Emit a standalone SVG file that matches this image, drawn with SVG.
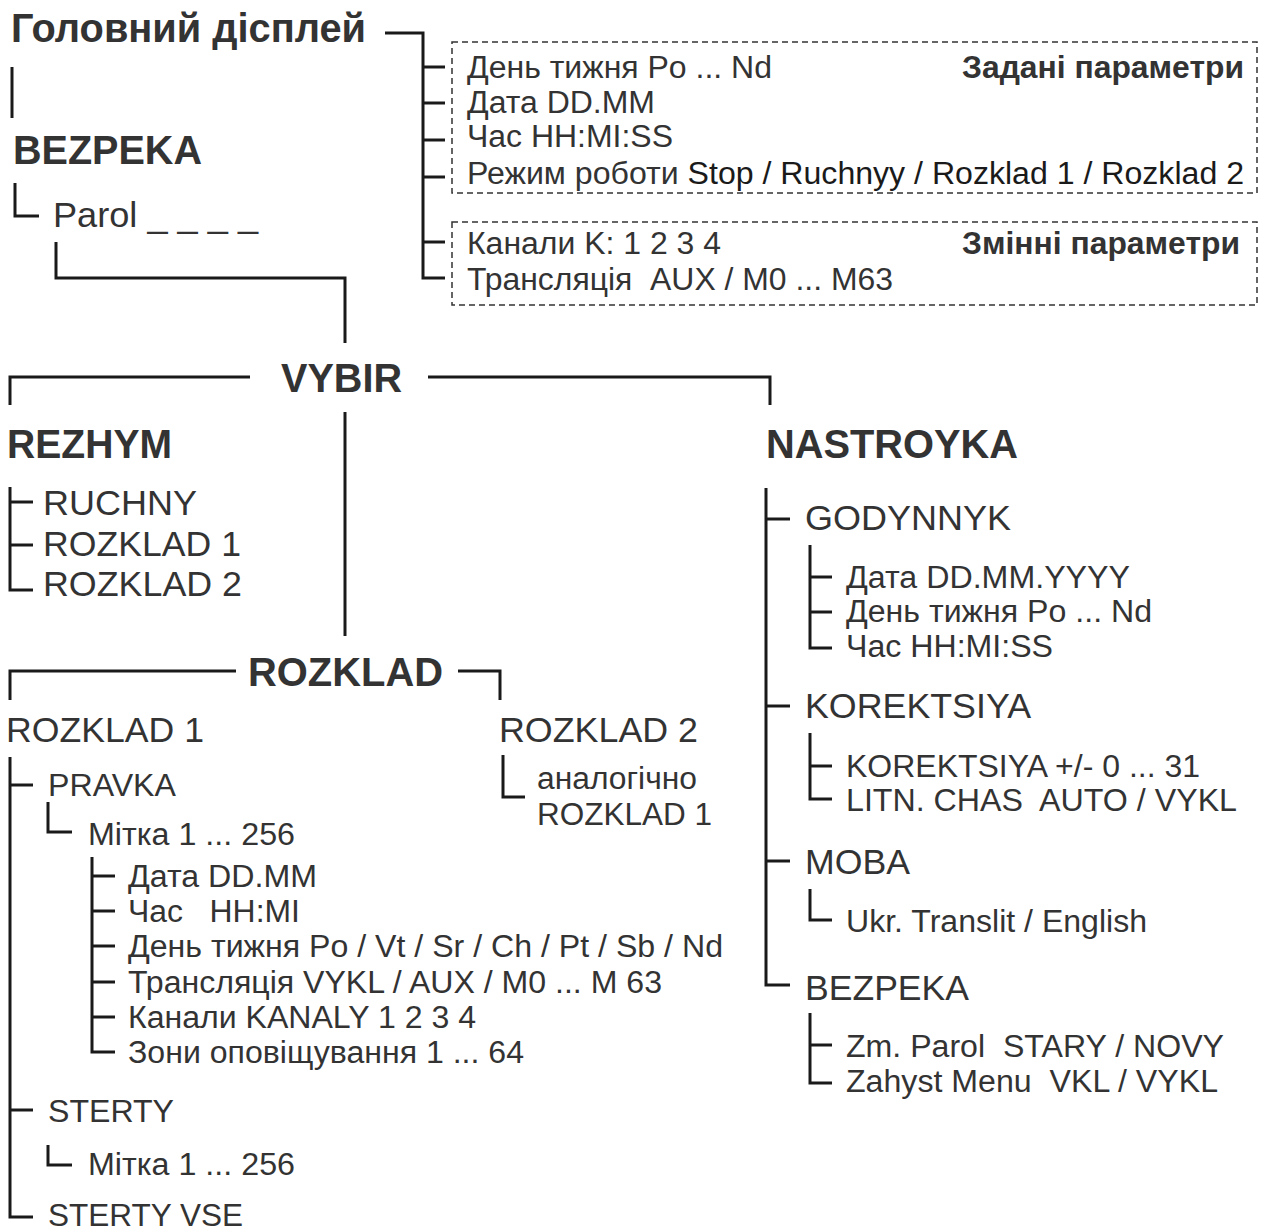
<svg xmlns="http://www.w3.org/2000/svg" width="1262" height="1232" viewBox="0 0 1262 1232">
<style>
text{font-family:"Liberation Sans",Arial,sans-serif;fill:#333;white-space:pre;}
.b{font-weight:bold;}
.h{font-size:40px;}
.m{font-size:35px;}
.s{font-size:31px;}
.k{fill:#1a1a1a;}
.c line,.c path{stroke:#1a1a1a;stroke-width:3;fill:none;}
.d{fill:none;stroke:#333;stroke-width:1.5;stroke-dasharray:6 4;}
</style>
<rect width="1262" height="1232" fill="#fff"/>
<g class="c" id="connectors">
<path d="M385 33H423V278H445"/>
<line x1="423" y1="67" x2="445" y2="67"/>
<line x1="423" y1="103" x2="445" y2="103"/>
<line x1="423" y1="140" x2="445" y2="140"/>
<line x1="423" y1="177" x2="445" y2="177"/>
<line x1="423" y1="242" x2="445" y2="242"/>
<line x1="12" y1="67" x2="12" y2="118"/>
<path d="M15 183V216H39"/>
<path d="M56 242V278H345V343"/>
<path d="M10 405V377H250"/>
<path d="M428 377H770V405"/>
<line x1="345" y1="412" x2="345" y2="636"/>
<path d="M10 487V590H33"/>
<line x1="10" y1="502" x2="33" y2="502"/>
<line x1="10" y1="545" x2="33" y2="545"/>
<path d="M10 700V671H236"/>
<path d="M458 671H500V700"/>
<path d="M503 755V797H525"/>
<path d="M10 757V1217H33"/>
<line x1="10" y1="785" x2="33" y2="785"/>
<line x1="10" y1="1110" x2="33" y2="1110"/>
<path d="M48 802V832H72"/>
<path d="M92 857V1052H115"/>
<line x1="92" y1="876" x2="115" y2="876"/>
<line x1="92" y1="911" x2="115" y2="911"/>
<line x1="92" y1="946" x2="115" y2="946"/>
<line x1="92" y1="982" x2="115" y2="982"/>
<line x1="92" y1="1017" x2="115" y2="1017"/>
<path d="M48 1145V1165H72"/>
<path d="M766 488V985H790"/>
<line x1="766" y1="519" x2="790" y2="519"/>
<line x1="766" y1="706" x2="790" y2="706"/>
<line x1="766" y1="861" x2="790" y2="861"/>
<path d="M810 545V648H832"/>
<line x1="810" y1="577" x2="832" y2="577"/>
<line x1="810" y1="612" x2="832" y2="612"/>
<path d="M810 733V799H832"/>
<line x1="810" y1="766" x2="832" y2="766"/>
<path d="M810 889V920H832"/>
<path d="M810 1013V1083H832"/>
<line x1="810" y1="1045" x2="832" y2="1045"/>
</g>
<g id="main-display">
<text class="b h" x="11" y="42" textLength="355" lengthAdjust="spacingAndGlyphs">Головний дісплей</text>
</g>
<g id="preset-params">
<rect class="d" x="452" y="42" width="805" height="151"/>
<text class="s" x="467" y="78" textLength="305" lengthAdjust="spacingAndGlyphs">День тижня Po ... Nd</text>
<text class="s b" x="962" y="78" textLength="282" lengthAdjust="spacingAndGlyphs">Задані параметри</text>
<text class="s" x="467" y="113" textLength="188" lengthAdjust="spacingAndGlyphs">Дата DD.MM</text>
<text class="s" x="467" y="147" textLength="206" lengthAdjust="spacingAndGlyphs">Час HH:MI:SS</text>
<text class="s" x="467" y="184" textLength="777" lengthAdjust="spacingAndGlyphs">Режим роботи <tspan class="k">Stop / Ruchnyy / Rozklad 1 / Rozklad 2</tspan></text>
</g>
<g id="variable-params">
<rect class="d" x="452" y="222" width="805" height="83"/>
<text class="s" x="467" y="254" textLength="254" lengthAdjust="spacingAndGlyphs">Канали K: 1 2 3 4</text>
<text class="s b" x="962" y="254" textLength="278" lengthAdjust="spacingAndGlyphs">Змінні параметри</text>
<text class="s" x="467" y="290" textLength="426" lengthAdjust="spacingAndGlyphs">Трансляція  AUX / M0 ... M63</text>
</g>
<g id="bezpeka-top">
<text class="b h" x="13" y="164" textLength="189" lengthAdjust="spacingAndGlyphs">BEZPEKA</text>
<text class="m" x="53" y="227" textLength="205" lengthAdjust="spacingAndGlyphs">Parol _ _ _ _</text>
</g>
<g id="vybir">
<text class="b h" x="281" y="392" textLength="121" lengthAdjust="spacingAndGlyphs">VYBIR</text>
</g>
<g id="rezhym">
<text class="b h" x="7" y="458" textLength="165" lengthAdjust="spacingAndGlyphs">REZHYM</text>
<text class="m" x="43" y="515" textLength="154" lengthAdjust="spacingAndGlyphs">RUCHNY</text>
<text class="m" x="43" y="556" textLength="198" lengthAdjust="spacingAndGlyphs">ROZKLAD 1</text>
<text class="m" x="43" y="596" textLength="199" lengthAdjust="spacingAndGlyphs">ROZKLAD 2</text>
</g>
<g id="rozklad">
<text class="b h" x="248" y="686" textLength="195" lengthAdjust="spacingAndGlyphs">ROZKLAD</text>
</g>
<g id="rozklad1">
<text class="m" x="6" y="742" textLength="198" lengthAdjust="spacingAndGlyphs">ROZKLAD 1</text>
<text class="s" x="48" y="796" textLength="128" lengthAdjust="spacingAndGlyphs">PRAVKA</text>
<text class="s" x="88" y="845" textLength="207" lengthAdjust="spacingAndGlyphs">Мітка 1 ... 256</text>
<text class="s" x="128" y="887" textLength="189" lengthAdjust="spacingAndGlyphs">Дата DD.MM</text>
<text class="s" x="128" y="922" textLength="172" lengthAdjust="spacingAndGlyphs">Час   HH:MI</text>
<text class="s" x="128" y="957" textLength="595" lengthAdjust="spacingAndGlyphs">День тижня Po / Vt / Sr / Ch / Pt / Sb / Nd</text>
<text class="s" x="128" y="993" textLength="534" lengthAdjust="spacingAndGlyphs">Трансляція VYKL / AUX / M0 ... M 63</text>
<text class="s" x="128" y="1028" textLength="348" lengthAdjust="spacingAndGlyphs">Канали KANALY 1 2 3 4</text>
<text class="s" x="128" y="1063" textLength="396" lengthAdjust="spacingAndGlyphs">Зони оповіщування 1 ... 64</text>
<text class="s" x="48" y="1122" textLength="126" lengthAdjust="spacingAndGlyphs">STERTY</text>
<text class="s" x="88" y="1175" textLength="207" lengthAdjust="spacingAndGlyphs">Мітка 1 ... 256</text>
<text class="s" x="48" y="1226" textLength="195" lengthAdjust="spacingAndGlyphs">STERTY VSE</text>
</g>
<g id="rozklad2">
<text class="m" x="499" y="742" textLength="199" lengthAdjust="spacingAndGlyphs">ROZKLAD 2</text>
<text class="s" x="537" y="789" textLength="160" lengthAdjust="spacingAndGlyphs">аналогічно</text>
<text class="s" x="537" y="825" textLength="175" lengthAdjust="spacingAndGlyphs">ROZKLAD 1</text>
</g>
<g id="nastroyka">
<text class="b h" x="766" y="458" textLength="252" lengthAdjust="spacingAndGlyphs">NASTROYKA</text>
</g>
<g id="godynnyk">
<text class="m" x="805" y="530" textLength="206" lengthAdjust="spacingAndGlyphs">GODYNNYK</text>
<text class="s" x="846" y="588" textLength="284" lengthAdjust="spacingAndGlyphs">Дата DD.MM.YYYY</text>
<text class="s" x="846" y="622" textLength="306" lengthAdjust="spacingAndGlyphs">День тижня Po ... Nd</text>
<text class="s" x="846" y="657" textLength="207" lengthAdjust="spacingAndGlyphs">Час HH:MI:SS</text>
</g>
<g id="korektsiya">
<text class="m" x="805" y="718" textLength="226" lengthAdjust="spacingAndGlyphs">KOREKTSIYA</text>
<text class="s" x="846" y="777" textLength="354" lengthAdjust="spacingAndGlyphs">KOREKTSIYA +/- 0 ... 31</text>
<text class="s" x="846" y="811" textLength="391" lengthAdjust="spacingAndGlyphs">LITN. CHAS  AUTO / VYKL</text>
</g>
<g id="moba">
<text class="m" x="805" y="874" textLength="105" lengthAdjust="spacingAndGlyphs">MOBA</text>
<text class="s" x="846" y="932" textLength="301" lengthAdjust="spacingAndGlyphs">Ukr. Translit / English</text>
</g>
<g id="bezpeka">
<text class="m" x="805" y="1000" textLength="164" lengthAdjust="spacingAndGlyphs">BEZPEKA</text>
<text class="s" x="846" y="1057" textLength="378" lengthAdjust="spacingAndGlyphs">Zm. Parol  STARY / NOVY</text>
<text class="s" x="846" y="1092" textLength="372" lengthAdjust="spacingAndGlyphs">Zahyst Menu  VKL / VYKL</text>
</g>
</svg>
